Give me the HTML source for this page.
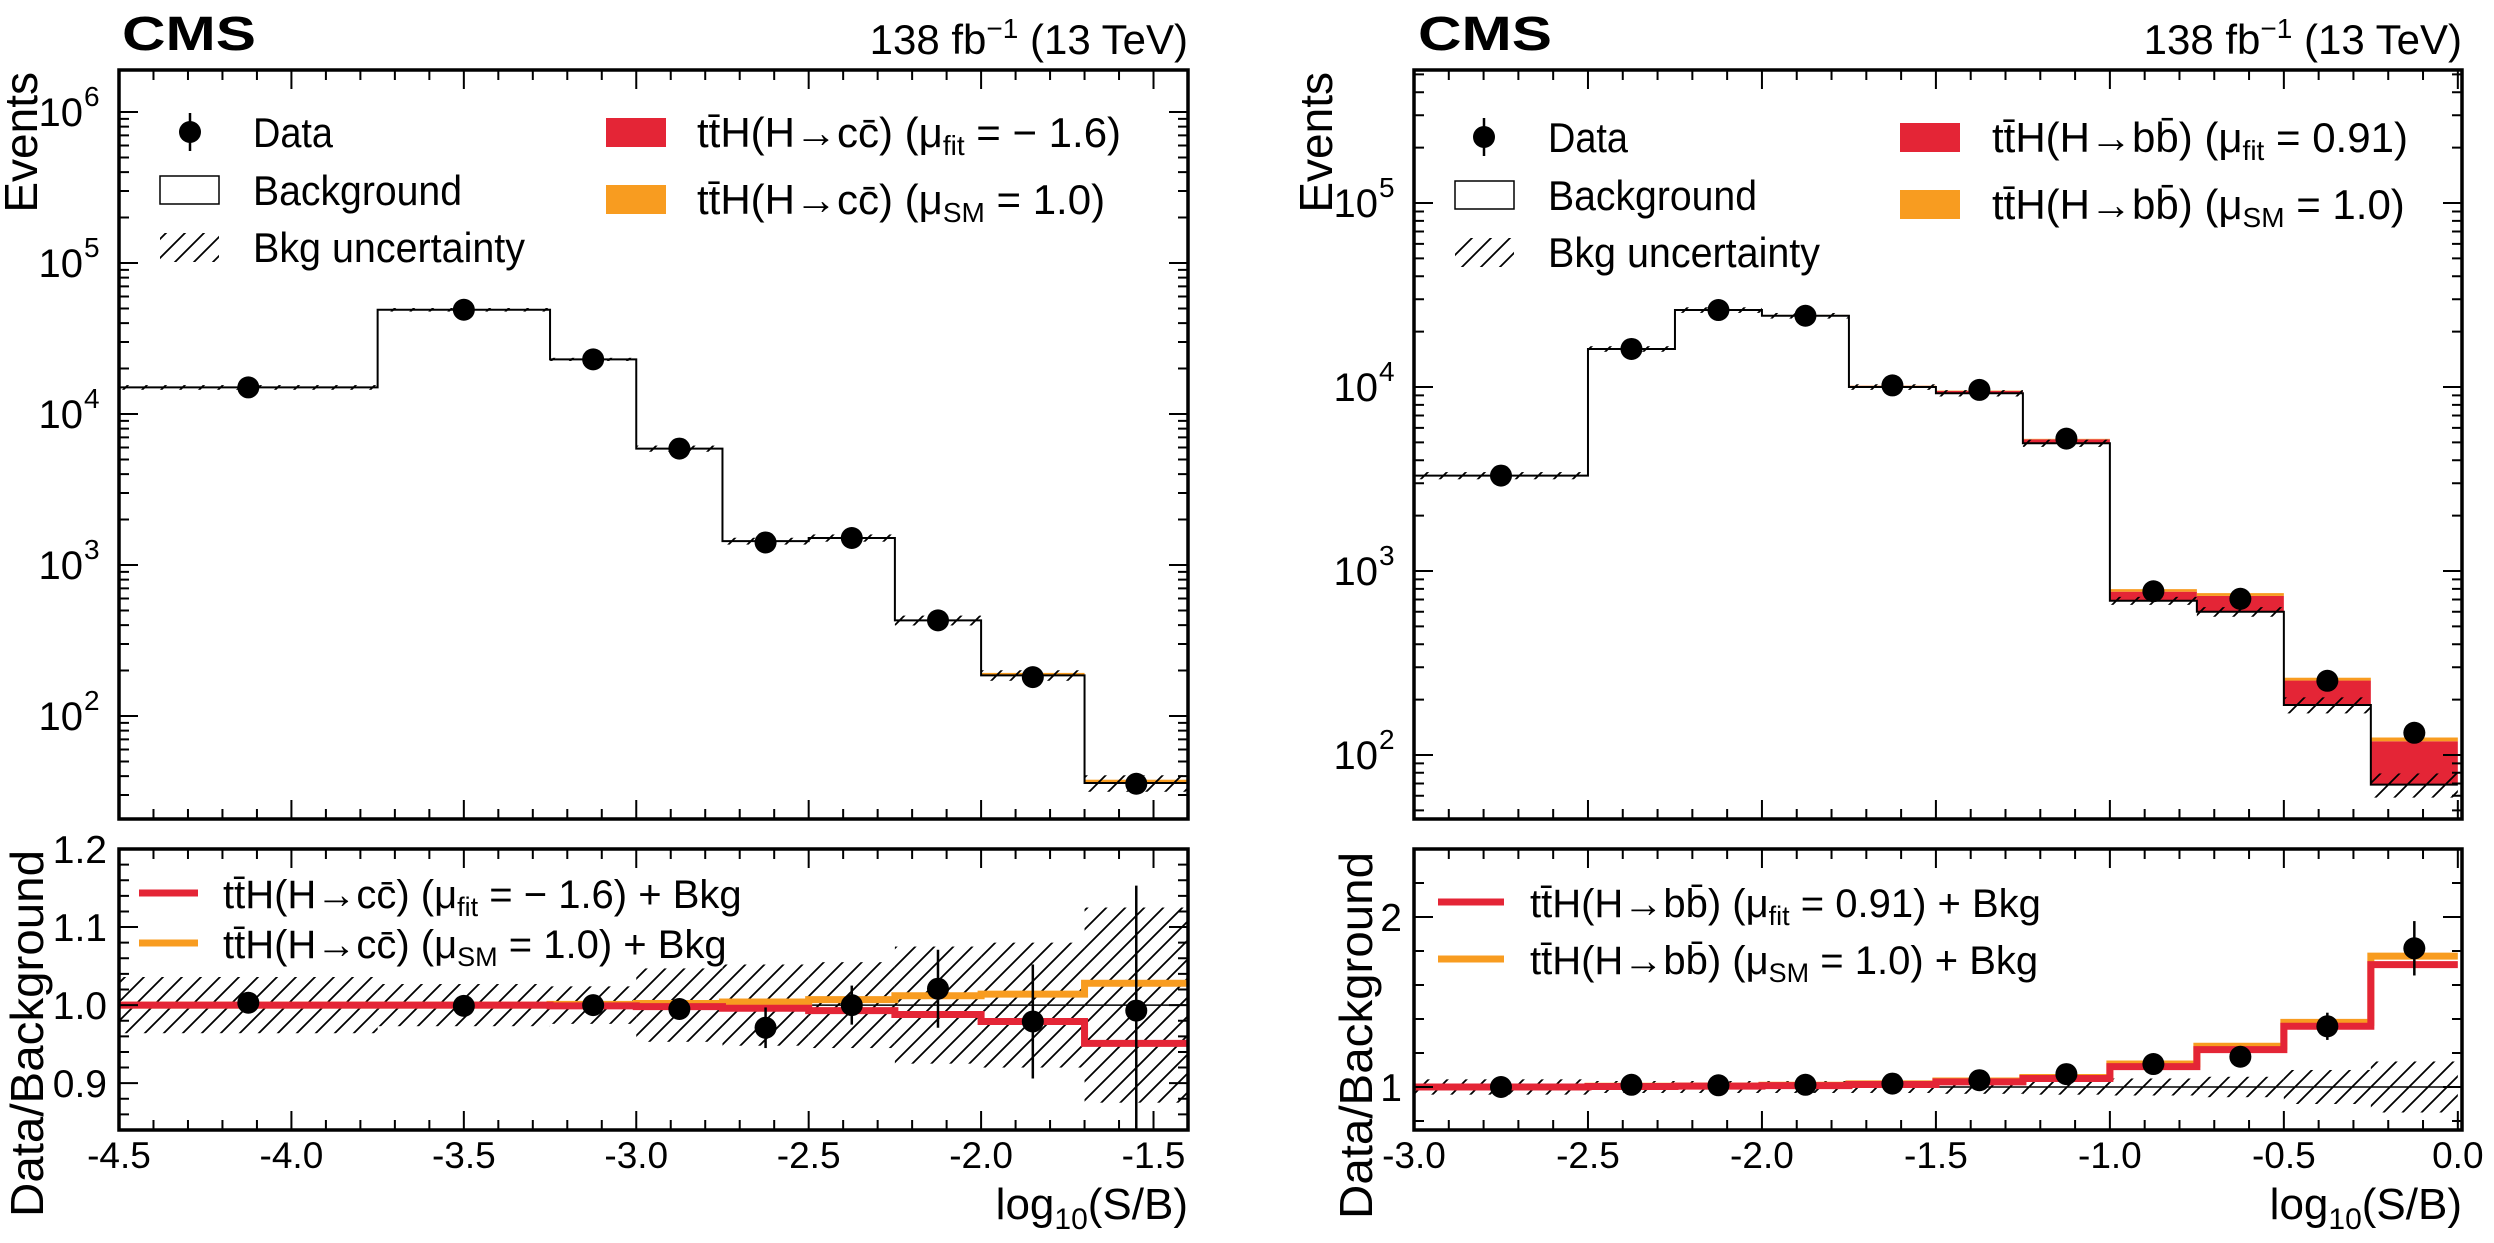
<!DOCTYPE html>
<html><head><meta charset="utf-8">
<style>
html,body{margin:0;padding:0;background:#fff;}
svg{display:block;font-family:"Liberation Sans",sans-serif;}
</style></head>
<body>
<svg id="chart" xmlns="http://www.w3.org/2000/svg" width="2494" height="1243" viewBox="0 0 2494 1243">
<defs>
<pattern id="hatch" patternUnits="userSpaceOnUse" width="19" height="19">
<path d="M-2,21 L21,-2 M-5,5 L5,-5 M14,24 L24,14" stroke="#000" stroke-width="1.8" fill="none"/>
</pattern>
</defs>
<g id="left"></g>
<g id="right"></g>
</svg>
<script>
// ---- Left panel data (H->cc) ----
const L_edges = [-4.5,-3.75,-3.25,-3.0,-2.75,-2.5,-2.25,-2.0,-1.7,-1.4];
const L_bkg = [15000,49000,23000,5900,1440,1510,430,186,36];
const L_data = [15000,49000,23000,5900,1410,1510,430,181,35.6];
const L_ratio = [1.003,0.999,1.0,0.995,0.971,1.0,1.021,0.979,0.993];
const L_ratioErr = [0.004,0.004,0.006,0.01,0.026,0.025,0.05,0.073,0.16];
const L_unc = [0.036,0.027,0.024,0.047,0.052,0.055,0.075,0.08,0.125];
const L_fit = [1.0,1.0,0.999,0.998,0.996,0.993,0.988,0.979,0.951];
const L_sm = [1.0,1.0,1.001,1.002,1.004,1.007,1.012,1.014,1.028];
const L_xticks = ["-4.5","-4.0","-3.5","-3.0","-2.5","-2.0","-1.5"];
const L_ratioTicks = ["0.9","1.0","1.1","1.2"];
// ---- Right panel data (H->bb) ----
const R_edges = [-3,-2.5,-2.25,-2,-1.75,-1.5,-1.25,-1,-0.75,-0.5,-0.25,0];
const R_bkg = [3300,16100,26200,24400,10000,9250,4950,689,600,187,69];
const R_data = [3300,16100,26200,24400,10200,9640,5240,776,706,253,132];
const R_ratio = [1.0,1.013,1.01,1.013,1.02,1.04,1.076,1.135,1.178,1.357,1.816];
const R_ratioErr = [0.01,0.01,0.01,0.01,0.015,0.015,0.02,0.04,0.045,0.08,0.16];
const R_unc = [0.045,0.035,0.035,0.035,0.035,0.04,0.045,0.05,0.06,0.1,0.15];
const R_fit = [1.0,1.003,1.005,1.008,1.015,1.03,1.05,1.12,1.22,1.357,1.72];
const R_sm = [1.0,1.004,1.006,1.01,1.018,1.035,1.056,1.135,1.24,1.38,1.77];
const R_xticks = ["-3.0","-2.5","-2.0","-1.5","-1.0","-0.5","0.0"];
const R_ratioTicks = ["1","2"];

const NS="http://www.w3.org/2000/svg";
const RED="#e42536", ORANGE="#f89c20";
function mk(parent,tag,attrs){const e=document.createElementNS(NS,tag);for(const k in attrs)e.setAttribute(k,attrs[k]);parent.appendChild(e);return e;}

function panel(gid,cfg){
  const g=document.getElementById(gid);
  const X=v=>cfg.x0+(v-cfg.xmin)/(cfg.xmax-cfg.xmin)*(cfg.x1-cfg.x0);
  const Y=v=>cfg.mTop+(cfg.logTop-Math.log10(v))/(cfg.logTop-cfg.logBot)*(cfg.mBot-cfg.mTop);
  const RY=v=>cfg.rTop+(cfg.rMax-v)/(cfg.rMax-cfg.rMin)*(cfg.rBot-cfg.rTop);
  const n=cfg.bkg.length;
  const clipM=mk(g,'clipPath',{id:gid+'cm'});mk(clipM,'rect',{x:cfg.x0,y:cfg.mTop,width:cfg.x1-cfg.x0,height:cfg.mBot-cfg.mTop});
  const clipR=mk(g,'clipPath',{id:gid+'cr'});mk(clipR,'rect',{x:cfg.x0,y:cfg.rTop,width:cfg.x1-cfg.x0,height:cfg.rBot-cfg.rTop});
  const gm=mk(g,'g',{'clip-path':'url(#'+gid+'cm)'});
  
  
  const gr=mk(g,'g',{'clip-path':'url(#'+gid+'cr)'});
  
  
  for(let i=0;i<n;i++){
    const xa=X(cfg.edges[i]),xb=X(cfg.edges[i+1]);
    const b=cfg.bkg[i],f=b*cfg.fit[i],s=b*cfg.sm[i];
    if(f>b){const r=mk(gm,'rect',{x:xa,y:Y(f),width:xb-xa,height:Y(b)-Y(f),fill:RED});
      
      }
    const lo=Math.max(b,f);
    if(s>lo){const h=Y(lo)-Y(s);const r=mk(gm,'rect',{x:xa,y:Y(s)-(h>0.8?1.5:0),width:xb-xa,height:h+(h>0.8?1.5:0),fill:ORANGE});
      
      }
    const u=mk(gm,'rect',{x:xa,y:Y(b*(1+cfg.unc[i])),width:xb-xa,height:Y(b*(1-cfg.unc[i]))-Y(b*(1+cfg.unc[i])),fill:'url(#hatch)'});
    
    
  }
  let d='M'+X(cfg.edges[0])+','+Y(cfg.bkg[0]);
  for(let i=0;i<n;i++){d+=' L'+X(cfg.edges[i])+','+Y(cfg.bkg[i])+' L'+X(cfg.edges[i+1])+','+Y(cfg.bkg[i]);}
  const bl=mk(gm,'path',{d:d,fill:'none',stroke:'#000','stroke-width':2});
  
  
  for(let i=0;i<n;i++){
    const cx=(X(cfg.edges[i])+X(cfg.edges[i+1]))/2;
    const c=mk(gm,'circle',{cx:cx,cy:Y(cfg.data[i]),r:11,fill:'#000'});
    
    
  }
  for(let i=0;i<n;i++){
    const xa=X(cfg.edges[i]),xb=X(cfg.edges[i+1]);
    const u=mk(gr,'rect',{x:xa,y:RY(1+cfg.unc[i]),width:xb-xa,height:RY(1-cfg.unc[i])-RY(1+cfg.unc[i]),fill:'url(#hatch)'});
    
    
  }
  const one=mk(gr,'line',{x1:cfg.x0,x2:cfg.x1,y1:RY(1),y2:RY(1),stroke:'#000','stroke-width':1.5});
  
  
  [[cfg.sm,ORANGE,'ratio-sm-line'],[cfg.fit,RED,'ratio-fit-line']].forEach(([arr,col,name])=>{
    let p='';
    for(let i=0;i<n;i++){p+=(i?' L':'M')+X(cfg.edges[i])+','+RY(arr[i])+' L'+X(cfg.edges[i+1])+','+RY(arr[i]);}
    const l=mk(gr,'path',{d:p,fill:'none',stroke:col,'stroke-width':7});
    
    
  });
  for(let i=0;i<n;i++){
    const cx=(X(cfg.edges[i])+X(cfg.edges[i+1]))/2;
    const e=mk(gr,'line',{x1:cx,x2:cx,y1:RY(cfg.ratio[i]+cfg.ratioErr[i]),y2:RY(cfg.ratio[i]-cfg.ratioErr[i]),stroke:'#000','stroke-width':2.5});
    
    
    const c=mk(gr,'circle',{cx:cx,cy:RY(cfg.ratio[i]),r:11,fill:'#000'});
    
    
  }
  [[cfg.mTop,cfg.mBot,'main-frame'],[cfg.rTop,cfg.rBot,'ratio-frame']].forEach(([t,b,name])=>{
    const f=mk(g,'rect',{x:cfg.x0,y:t,width:cfg.x1-cfg.x0,height:b-t,fill:'none',stroke:'#000','stroke-width':3.5});
    
    
  });
  let tk='';
  const xs=Math.ceil(cfg.xmin*10-1e-6),xe=Math.floor(cfg.xmax*10+1e-6);
  for(let k=xs;k<=xe;k++){
    const x=X(k/10),L=(k%5===0)?19:10;
    [[cfg.mTop,cfg.mBot],[cfg.rTop,cfg.rBot]].forEach(([t,b])=>{tk+=`M${x},${b}v${-L}M${x},${t}v${L}`;});
  }
  for(let dcd=Math.floor(cfg.logBot);dcd<=Math.ceil(cfg.logTop);dcd++){
    for(let m=1;m<=9;m++){
      const v=m*Math.pow(10,dcd),lv=Math.log10(v);
      if(lv<cfg.logBot||lv>cfg.logTop)continue;
      const y=Y(v),L=(m===1)?19:10;
      tk+=`M${cfg.x0},${y}h${L}M${cfg.x1},${y}h${-L}`;
    }
  }
  const rs=Math.ceil(cfg.rMin/cfg.rMinor-1e-6),re=Math.floor(cfg.rMax/cfg.rMinor+1e-6);
  for(let k=rs;k<=re;k++){
    const v=k*cfg.rMinor,y=RY(v);
    const major=Math.abs(v/cfg.rMajor-Math.round(v/cfg.rMajor))<1e-6;
    const L=major?19:10;
    tk+=`M${cfg.x0},${y}h${L}M${cfg.x1},${y}h${-L}`;
  }
  const tp=mk(g,'path',{d:tk,stroke:'#000','stroke-width':2,fill:'none'});
  
  
  cfg.xticks.forEach(s=>{
    const t=mk(g,'text',{x:X(parseFloat(s)),y:1168,'font-size':37,'text-anchor':'middle'});
    t.textContent=s;
    
    
  });
  for(let dcd=Math.ceil(cfg.logBot);dcd<=Math.floor(cfg.logTop);dcd++){
    const t=mk(g,'text',{x:cfg.x0-36,y:Y(Math.pow(10,dcd))+14,'font-size':40,'text-anchor':'end'});
    t.textContent='10';
    
    
    const s=mk(g,'text',{x:cfg.x0-35,y:Y(Math.pow(10,dcd))-6,'font-size':28,'text-anchor':'start'});
    s.textContent=String(dcd);
  }
  cfg.rticks.forEach(s=>{
    const t=mk(g,'text',{x:cfg.x0-12,y:RY(parseFloat(s))+14,'font-size':39,'text-anchor':'end'});
    t.textContent=s;
    
    
  });
}

panel('left',{x0:119,x1:1188,xmin:-4.5,xmax:-1.4,mTop:70,mBot:819,logTop:6.278,logBot:1.318,
  rTop:849,rBot:1130,rMax:1.2,rMin:0.84,rMajor:0.1,rMinor:0.02,
  edges:L_edges,bkg:L_bkg,data:L_data,ratio:L_ratio,ratioErr:L_ratioErr,unc:L_unc,fit:L_fit,sm:L_sm,
  xticks:L_xticks,rticks:L_ratioTicks});
panel('right',{x0:1414,x1:2462,xmin:-3,xmax:0.012,mTop:70,mBot:819,logTop:5.723,logBot:1.652,
  rTop:849,rBot:1130,rMax:2.4,rMin:0.747,rMajor:1,rMinor:0.2,
  edges:R_edges,bkg:R_bkg,data:R_data,ratio:R_ratio,ratioErr:R_ratioErr,unc:R_unc,fit:R_fit,sm:R_sm,
  xticks:R_xticks,rticks:R_ratioTicks});
</script>

<svg style="position:absolute;left:0;top:0" width="2494" height="1243" viewBox="0 0 2494 1243" xmlns="http://www.w3.org/2000/svg" font-family="Liberation Sans, sans-serif">
<defs>
<pattern id="hatch2" patternUnits="userSpaceOnUse" width="19" height="19">
<path d="M-2,21 L21,-2 M-5,5 L5,-5 M14,24 L24,14" stroke="#000" stroke-width="1.8" fill="none"/>
</pattern>
</defs>
<text x="122" y="50" font-size="48" font-weight="bold" textLength="134" lengthAdjust="spacingAndGlyphs">CMS</text>
<text x="1188" y="54" font-size="42" text-anchor="end">138 fb<tspan font-size="28" dy="-16">−1</tspan><tspan dy="16"> (13 TeV)</tspan></text>
<text transform="translate(37,72) rotate(-90)" font-size="46" text-anchor="end">Events</text>
<text transform="translate(43,850) rotate(-90)" font-size="46" text-anchor="end" textLength="367" lengthAdjust="spacingAndGlyphs">Data/Background</text>
<text x="1188" y="1219" font-size="44" text-anchor="end">log<tspan font-size="30" dy="10">10</tspan><tspan dy="-10">(S/B)</tspan></text>
<g>
<line x1="190" y1="113" x2="190" y2="151" stroke="#000" stroke-width="2.5"/><circle cx="190" cy="132" r="11"/>
<text x="253" y="147" font-size="42" textLength="80" lengthAdjust="spacingAndGlyphs">Data</text>
<rect x="160" y="176" width="59" height="28" fill="none" stroke="#000" stroke-width="1.5"/>
<text x="253" y="205" font-size="42" textLength="209" lengthAdjust="spacingAndGlyphs">Background</text>
<rect x="160" y="233" width="59" height="29" fill="url(#hatch2)"/>
<text x="253" y="262" font-size="42" textLength="272" lengthAdjust="spacingAndGlyphs">Bkg uncertainty</text>
<rect x="606" y="118" width="60" height="29" fill="#e42536"/>
<text x="697" y="147" font-size="42">tt̄H(H→cc̄) (μ<tspan font-size="28" dy="8">fit</tspan><tspan dy="-8"> = − 1.6)</tspan></text>
<rect x="606" y="185" width="60" height="29" fill="#f89c20"/>
<text x="697" y="214" font-size="42">tt̄H(H→cc̄) (μ<tspan font-size="28" dy="8">SM</tspan><tspan dy="-8"> = 1.0)</tspan></text>
</g>
<g>
<line x1="139" y1="893" x2="198" y2="893" stroke="#e42536" stroke-width="7"/>
<text x="223" y="908" font-size="40">tt̄H(H→cc̄) (μ<tspan font-size="27" dy="8">fit</tspan><tspan dy="-8"> = − 1.6) + Bkg</tspan></text>
<line x1="139" y1="943" x2="198" y2="943" stroke="#f89c20" stroke-width="7"/>
<text x="223" y="958" font-size="40">tt̄H(H→cc̄) (μ<tspan font-size="27" dy="8">SM</tspan><tspan dy="-8"> = 1.0) + Bkg</tspan></text>
</g>
<text x="1418" y="50" font-size="48" font-weight="bold" textLength="134" lengthAdjust="spacingAndGlyphs">CMS</text>
<text x="2462" y="54" font-size="42" text-anchor="end">138 fb<tspan font-size="28" dy="-16">−1</tspan><tspan dy="16"> (13 TeV)</tspan></text>
<text transform="translate(1332,72) rotate(-90)" font-size="46" text-anchor="end">Events</text>
<text transform="translate(1372,852) rotate(-90)" font-size="46" text-anchor="end" textLength="367" lengthAdjust="spacingAndGlyphs">Data/Background</text>
<text x="2462" y="1219" font-size="44" text-anchor="end">log<tspan font-size="30" dy="10">10</tspan><tspan dy="-10">(S/B)</tspan></text>
<g>
<line x1="1484" y1="118" x2="1484" y2="156" stroke="#000" stroke-width="2.5"/><circle cx="1484" cy="137" r="11"/>
<text x="1548" y="152" font-size="42" textLength="80" lengthAdjust="spacingAndGlyphs">Data</text>
<rect x="1455" y="181" width="59" height="28" fill="none" stroke="#000" stroke-width="1.5"/>
<text x="1548" y="210" font-size="42" textLength="209" lengthAdjust="spacingAndGlyphs">Background</text>
<rect x="1455" y="238" width="59" height="29" fill="url(#hatch2)"/>
<text x="1548" y="267" font-size="42" textLength="272" lengthAdjust="spacingAndGlyphs">Bkg uncertainty</text>
<rect x="1900" y="123" width="60" height="29" fill="#e42536"/>
<text x="1992" y="152" font-size="42">tt̄H(H→bb̄) (μ<tspan font-size="28" dy="8">fit</tspan><tspan dy="-8"> = 0.91)</tspan></text>
<rect x="1900" y="190" width="60" height="29" fill="#f89c20"/>
<text x="1992" y="219" font-size="42">tt̄H(H→bb̄) (μ<tspan font-size="28" dy="8">SM</tspan><tspan dy="-8"> = 1.0)</tspan></text>
</g>
<g>
<line x1="1438" y1="902" x2="1504" y2="902" stroke="#e42536" stroke-width="7"/>
<text x="1530" y="917" font-size="40">tt̄H(H→bb̄) (μ<tspan font-size="27" dy="8">fit</tspan><tspan dy="-8"> = 0.91) + Bkg</tspan></text>
<line x1="1438" y1="959" x2="1504" y2="959" stroke="#f89c20" stroke-width="7"/>
<text x="1530" y="974" font-size="40">tt̄H(H→bb̄) (μ<tspan font-size="27" dy="8">SM</tspan><tspan dy="-8"> = 1.0) + Bkg</tspan></text>
</g>
</svg>
</body></html>
